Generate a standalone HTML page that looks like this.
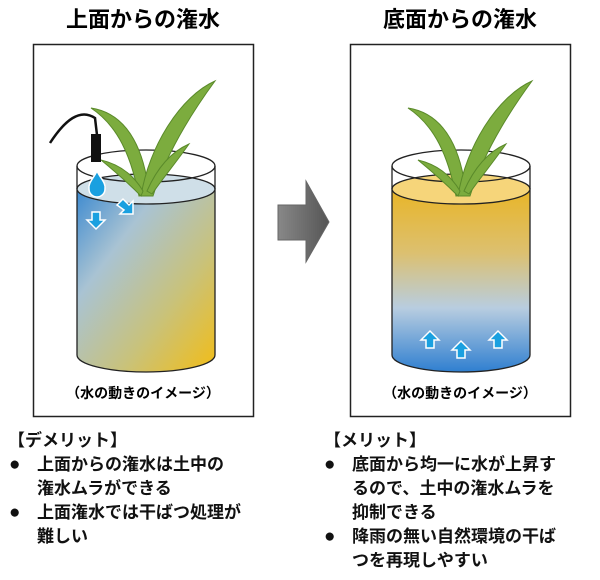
<!DOCTYPE html>
<html><head><meta charset="utf-8"><style>
body{margin:0;width:600px;height:580px;background:#fff;overflow:hidden;font-family:"Liberation Sans","Noto Sans CJK JP",sans-serif}
.t{position:absolute;font-size:17px;font-weight:bold;line-height:24px;color:#111}
.b{font-size:19px}
</style></head><body>
<svg width="600" height="580" style="position:absolute;left:0;top:0">
<defs>
<linearGradient id="g1" x1="0" y1="0" x2="1" y2="1">
<stop offset="0" stop-color="#3d8ad0"/><stop offset="0.3" stop-color="#a9c3d3"/><stop offset="0.65" stop-color="#c8c27c"/><stop offset="1" stop-color="#f2bd16"/></linearGradient>
<linearGradient id="g2" x1="0" y1="0" x2="0" y2="1">
<stop offset="0" stop-color="#e9b527"/><stop offset="0.35" stop-color="#dcc070"/><stop offset="0.65" stop-color="#b8cde0"/><stop offset="1" stop-color="#2f7fd0"/></linearGradient>
<linearGradient id="ga" x1="0" y1="0" x2="1" y2="0"><stop offset="0" stop-color="#888"/><stop offset="1" stop-color="#555"/></linearGradient>
<g id="plant" fill="#7cac3e" stroke="#5a8a2a" stroke-width="1">
<path d="M-4 0 C-12 -40 -25 -70 -52 -88 C-12 -82 2 -40 6 -2 Z"/>
<path d="M-2 0 C6 -50 38 -100 72 -115 C50 -85 24 -45 10 0 Z"/>
<path d="M4 -5 C15 -30 30 -45 46 -52 C32 -32 20 -18 9 -2 Z"/>
<path d="M0 -5 C-10 -22 -25 -32 -42 -36 C-25 -22 -12 -10 -2 0 Z"/>
</g>
</defs>
<text x="143" y="27" font-size="22" font-weight="bold" text-anchor="middle" font-family="Liberation Sans,Noto Sans CJK JP,sans-serif">上面からの潅水</text>
<text x="460" y="27" font-size="22" font-weight="bold" text-anchor="middle" font-family="Liberation Sans,Noto Sans CJK JP,sans-serif">底面からの潅水</text>
<rect x="33.5" y="44.5" width="220" height="372" fill="none" stroke="#222" stroke-width="1.5"/>
<rect x="350.5" y="44.5" width="220" height="372" fill="none" stroke="#222" stroke-width="1.5"/>
<path d="M77 189 L77 355 A69 17 0 0 0 215 355 L215 189 Z" fill="url(#g1)" stroke="#222" stroke-width="1.3"/>
<ellipse cx="146" cy="189" rx="69" ry="15" fill="#cfdfe8" stroke="#222" stroke-width="1.3"/>
<path d="M77 166 L77 189 M215 166 L215 189" stroke="#222" stroke-width="1.3"/>
<ellipse cx="146" cy="166" rx="69" ry="16" fill="none" stroke="#222" stroke-width="1.3"/>
<use href="#plant" x="143" y="196"/>
<path d="M50 143 C65 120 80 108 95 118 L97 135" fill="none" stroke="#111" stroke-width="2.5"/>
<rect x="91" y="134" width="10" height="28" fill="#111"/>
<path d="M97 171 C93 179 88 183 89 189 A8 8 0 0 0 105 189 C106 183 101 179 97 171 Z" fill="#1aa0e0" stroke="#fff" stroke-width="1.5"/>
<path d="M92 212 h8 v8 h5 l-9 9 l-9 -9 h5 z" fill="#1aa0e0" stroke="#fff" stroke-width="1.5"/>
<path d="M117 205 l6 -6 l6 6 l4 -4 v13 h-13 l4 -4 z" fill="#1aa0e0" stroke="#fff" stroke-width="1.5"/>
<text x="143" y="398" font-size="14" font-weight="bold" text-anchor="middle" font-family="Liberation Sans,Noto Sans CJK JP,sans-serif">（水の動きのイメージ）</text>
<path d="M278 205 H306 V181 L329 222 L306 262 V240 H278 Z" fill="url(#ga)" stroke="#666"/>
<path d="M392 189 L392 355 A69 17 0 0 0 530 355 L530 189 Z" fill="url(#g2)" stroke="#222" stroke-width="1.3"/>
<ellipse cx="461" cy="189" rx="69" ry="15" fill="#f6d57a" stroke="#222" stroke-width="1.3"/>
<path d="M392 166 L392 189 M530 166 L530 189" stroke="#222" stroke-width="1.3"/>
<ellipse cx="461" cy="166" rx="69" ry="16" fill="none" stroke="#222" stroke-width="1.3"/>
<use href="#plant" x="460" y="196"/>
<g fill="#1aa0e0" stroke="#fff" stroke-width="1.5">
<path d="M421 340 l9 -9 l9 9 h-5 v8 h-8 v-8 z"/>
<path d="M452 350 l9 -9 l9 9 h-5 v8 h-8 v-8 z"/>
<path d="M489 340 l9 -9 l9 9 h-5 v8 h-8 v-8 z"/>
</g>
<text x="460" y="398" font-size="14" font-weight="bold" text-anchor="middle" font-family="Liberation Sans,Noto Sans CJK JP,sans-serif">（水の動きのイメージ）</text>
</svg>
<div class="t" style="left:8px;top:429px">【デメリット】</div>
<div class="t b" style="left:9px;top:453px">●</div>
<div class="t" style="left:37px;top:453px">上面からの潅水は土中の<br>潅水ムラができる</div>
<div class="t b" style="left:9px;top:501px">●</div>
<div class="t" style="left:37px;top:501px">上面潅水では干ばつ処理が<br>難しい</div>
<div class="t" style="left:324px;top:429px">【メリット】</div>
<div class="t b" style="left:324px;top:453px">●</div>
<div class="t" style="left:352px;top:453px">底面から均一に水が上昇す<br>るので、土中の潅水ムラを<br>抑制できる</div>
<div class="t b" style="left:324px;top:525px">●</div>
<div class="t" style="left:352px;top:525px">降雨の無い自然環境の干ば<br>つを再現しやすい</div>
</body></html>
